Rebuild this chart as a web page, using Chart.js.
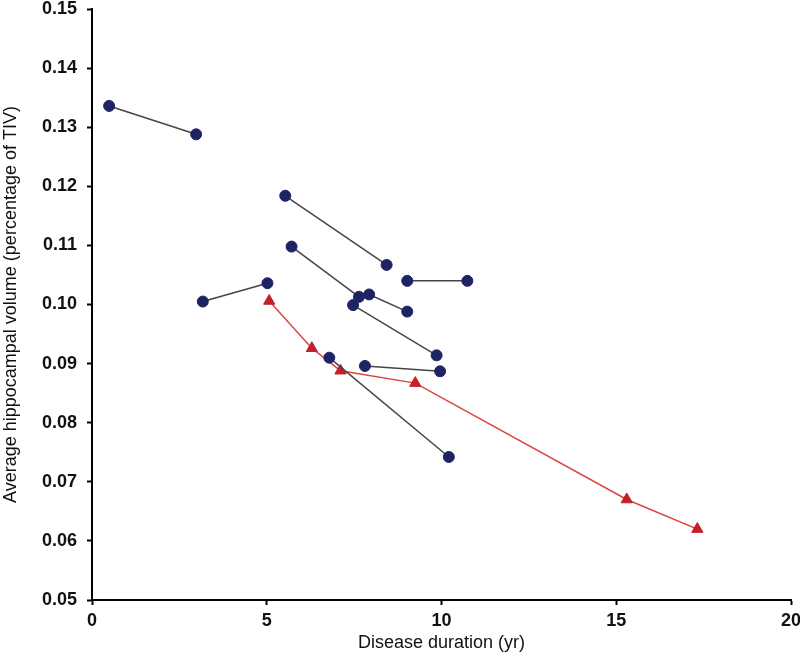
<!DOCTYPE html>
<html>
<head>
<meta charset="utf-8">
<script src="https://cdn.jsdelivr.net/npm/chart.js@4"></script>
<style>
  html, body { margin: 0; padding: 0; background: #fff; }
  #wrap { width: 800px; height: 657px; }
</style>
</head>
<body>
<div id="wrap"><canvas id="chart"></canvas></div>
<script>
// Pares de medidas (círculos azuis): início e fim de cada segmento
const startX = [0.49, 3.17, 5.53, 5.71, 7.93, 9.02, 7.47, 6.79, 7.81];
const startY = [0.1336, 0.1005, 0.1184, 0.1098, 0.1017, 0.1040, 0.0999, 0.0910, 0.0896];
const endX = [2.98, 5.02, 8.43, 7.64, 9.02, 10.74, 9.86, 10.21, 9.96];
const endY = [0.1288, 0.1036, 0.1067, 0.1013, 0.0988, 0.1040, 0.0914, 0.0742, 0.0887];

// Série vermelha (triângulos)
const redX = [5.07, 6.29, 7.11, 9.25, 15.30, 17.32];
const redY = [0.1006, 0.0926, 0.0888, 0.0867, 0.0670, 0.0620];

const yTicks = [0.05, 0.06, 0.07, 0.08, 0.09, 0.10, 0.11, 0.12, 0.13, 0.14, 0.15];
const xTicks = [0, 5, 10, 15, 20];

const navy = '#1e2364';

let datasets = startX.map((x, i) => ({
  data: [{ x: x, y: startY[i] }, { x: endX[i], y: endY[i] }],
  showLine: true,
  borderColor: '#454545',
  borderWidth: 1.5,
  pointStyle: 'circle',
  pointRadius: 5.5,
  pointBackgroundColor: navy,
  pointBorderColor: navy,
  pointBorderWidth: 1,
}))

datasets.push({
  data: redX.map((x, i) => ({ x: x, y: redY[i] })),
  showLine: true,
  borderColor: '#d9463f',
  borderWidth: 1.5,
  pointStyle: 'triangle',
  pointRadius: 6.5,
  pointBackgroundColor: '#c4202a',
  pointBorderColor: '#c4202a',
  pointBorderWidth: 1,
})

const tickFont = { family: 'Liberation Sans, Arial, sans-serif', size: 18, weight: 'bold' };
const titleFont = { family: 'Liberation Sans, Arial, sans-serif', size: 18 };

let ctx = document.getElementById('chart');

new Chart(ctx, {
  type: 'scatter',
  data: { datasets: datasets },
  options: {
    responsive: true,
    maintainAspectRatio: false,
    animation: false,
    layout: {
      padding: { top: 9, right: 9, left: 0, bottom: 0 }
    },
    plugins: {
      legend: { display: false },
      tooltip: { enabled: false }
    },
    scales: {
      x: {
        type: 'linear',
        min: 0,
        max: 20,
        afterBuildTicks: s => { s.ticks = xTicks.map(v => ({ value: v })) },
        afterFit: s => { s.height = 57; s.paddingLeft = 0; s.paddingRight = 0 },
        ticks: { color: '#111', font: tickFont, padding: 5, maxRotation: 0 },
        grid: { drawOnChartArea: false, drawTicks: true, tickLength: 5, tickWidth: 2, tickColor: '#000' },
        border: { display: true, color: '#000', width: 2 },
        title: { display: true, text: 'Disease duration (yr)', color: '#111', font: titleFont, padding: { top: 0, bottom: 3 } }
      },
      y: {
        type: 'linear',
        min: 0.05,
        max: 0.15,
        afterBuildTicks: s => { s.ticks = yTicks.map(v => ({ value: v })) },
        afterFit: s => { s.width = 92; s.paddingTop = 0; s.paddingBottom = 0 },
        ticks: { color: '#111', font: tickFont, padding: 10, callback: v => v.toFixed(2) },
        grid: { drawOnChartArea: false, drawTicks: true, tickLength: 5, tickWidth: 2, tickColor: '#000' },
        border: { display: true, color: '#000', width: 2 },
        title: { display: true, text: 'Average hippocampal volume (percentage of TIV)', color: '#111', font: titleFont, padding: { top: 0, bottom: 0 } }
      }
    }
  }
});
</script>
</body>
</html>
